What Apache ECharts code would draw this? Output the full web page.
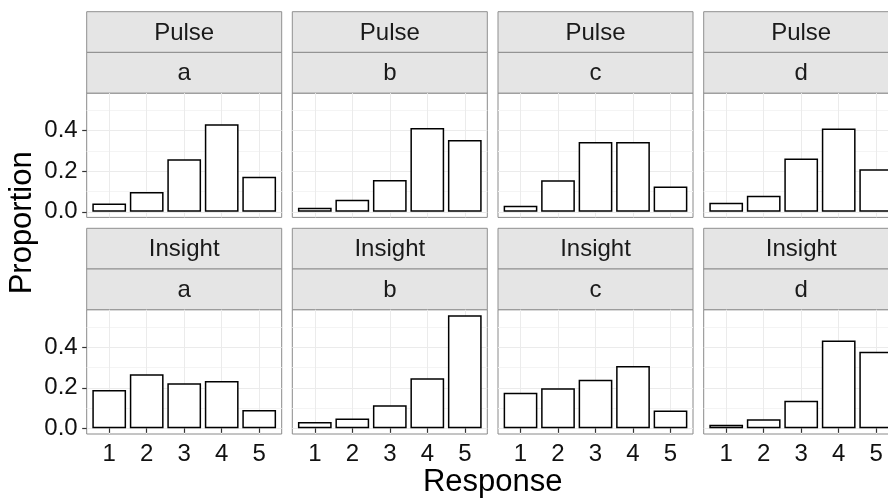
<!DOCTYPE html>
<html>
<head>
<meta charset="utf-8">
<script src="https://cdn.jsdelivr.net/npm/echarts@6/dist/echarts.min.js"></script>
<style>
html,body{margin:0;padding:0;background:#fff;}
#chart{width:888px;height:498px;}
</style>
</head>
<body>
<div id="chart"></div>
<script>
// ---- data ----
const responses = [1, 2, 3, 4, 5];
const groups = ['a', 'b', 'c', 'd'];
const measures = ['Pulse', 'Insight'];
const pulseA = [0.041, 0.097, 0.259, 0.431, 0.173];
const pulseB = [0.020, 0.059, 0.157, 0.413, 0.354];
const pulseC = [0.030, 0.155, 0.344, 0.344, 0.125];
const pulseD = [0.044, 0.079, 0.262, 0.410, 0.209];
const insightA = [0.189, 0.267, 0.222, 0.234, 0.091];
const insightB = [0.031, 0.048, 0.114, 0.247, 0.557];
const insightC = [0.176, 0.198, 0.240, 0.307, 0.088];
const insightD = [0.018, 0.045, 0.136, 0.433, 0.378];
const yTicks = [0, 0.2, 0.4];
const yMinorTicks = [0.1, 0.3, 0.5];
const xTitle = 'Response';
const yTitle = 'Proportion';

const panelData = [
  [pulseA, pulseB, pulseC, pulseD],
  [insightA, insightB, insightC, insightD]
];

// ---- layout ----
const PANEL_LEFT = [86.7, 292.3, 498, 703.7];
const PANEL_W = 195;
const ROW_TOP = [11.7, 228.3];
const STRIP_H = 40.7;
const PANEL_H = 124.3;
const FONT = '"Liberation Sans", Arial, Helvetica, sans-serif';
const TEXT_COLOR = '#111';
const SMALL = 24;
const BIG = 31;

const allVals = panelData.flat(2);
const dataMax = Math.max(...allVals);
const yPad = dataMax * 0.05;
const yMin = -yPad, yMax = dataMax + yPad;

const grids = [], xAxes = [], yAxes = [], series = [], graphics = [];
let gi = 0;
for (let r = 0; r < 2; r++) {
  for (let c = 0; c < 4; c++) {
    const top = ROW_TOP[r] + 2 * STRIP_H;
    grids.push({
      left: PANEL_LEFT[c], top: top, width: PANEL_W, height: PANEL_H,
      show: true, backgroundColor: '#fff', borderColor: '#8a8a8a', borderWidth: 1,
      containLabel: false, outerBoundsMode: 'none'
    });
    xAxes.push({
      type: 'value', gridIndex: gi, min: 0.4, max: 5.6,
      axisLine: { show: false },
      axisTick: { show: r === 1, customValues: responses, length: 4.5, lineStyle: { color: '#333', width: 1.2 } },
      axisLabel: { show: r === 1, customValues: responses, margin: 8, fontSize: SMALL, fontFamily: FONT, color: TEXT_COLOR },
      splitLine: { show: true, lineStyle: { color: '#EBEBEB', width: 1 } }
    });
    yAxes.push({
      type: 'value', gridIndex: gi, min: yMin, max: yMax,
      axisLine: { show: false },
      axisTick: { show: c === 0, customValues: yTicks, length: 4.5, lineStyle: { color: '#333', width: 1.2 } },
      axisLabel: { show: c === 0, customValues: yTicks, margin: 9, fontSize: SMALL, fontFamily: FONT, color: TEXT_COLOR,
        formatter: v => Number(v).toFixed(1) },
      splitLine: { show: true, lineStyle: { color: '#EBEBEB', width: 1 } }
    });
    yAxes.push({
      type: 'value', gridIndex: gi, min: yMin, max: yMax,
      axisLine: { show: false },
      axisTick: { show: false, customValues: yMinorTicks },
      axisLabel: { show: false, customValues: yMinorTicks },
      splitLine: { show: true, lineStyle: { color: '#F4F4F4', width: 1 } }
    });
    series.push({
      type: 'bar', xAxisIndex: gi, yAxisIndex: 2 * gi,
      barWidth: 33.75,
      data: responses.map((x, i) => [x, panelData[r][c][i]]),
      itemStyle: { color: '#fff', borderColor: '#000', borderWidth: 1.5 },
      emphasis: { disabled: true },
      silent: true, z: 3
    });
    // strips
    const labels = [measures[r], groups[c]];
    for (let k = 0; k < 2; k++) {
      graphics.push({
        type: 'rect', silent: true,
        shape: { x: PANEL_LEFT[c], y: ROW_TOP[r] + k * STRIP_H, width: PANEL_W, height: STRIP_H },
        style: { fill: '#E5E5E5', stroke: '#8f8f8f', lineWidth: 1 }
      });
      graphics.push({
        type: 'text', silent: true,
        x: PANEL_LEFT[c] + PANEL_W / 2, y: ROW_TOP[r] + k * STRIP_H + STRIP_H / 2 + 1,
        style: { text: labels[k], fill: '#1a1a1a', font: SMALL + 'px ' + FONT, align: 'center', verticalAlign: 'middle' }
      });
    }
    gi++;
  }
}

const panelsBottom = ROW_TOP[1] + 2 * STRIP_H + PANEL_H;
graphics.push({
  type: 'text', silent: true,
  x: (PANEL_LEFT[0] + PANEL_LEFT[3] + PANEL_W) / 2, y: 482,
  style: { text: xTitle, fill: '#000', font: BIG + 'px ' + FONT, align: 'center', verticalAlign: 'middle' }
});
graphics.push({
  type: 'text', silent: true,
  x: 22, y: (ROW_TOP[0] + panelsBottom) / 2, rotation: Math.PI / 2,
  style: { text: yTitle, fill: '#000', font: BIG + 'px ' + FONT, align: 'center', verticalAlign: 'middle' }
});

const chart = echarts.init(document.getElementById('chart'), null, { renderer: 'canvas' });
chart.setOption({
  animation: false,
  backgroundColor: '#fff',
  grid: grids,
  xAxis: xAxes,
  yAxis: yAxes,
  series: series,
  graphic: graphics
});
</script>
</body>
</html>
